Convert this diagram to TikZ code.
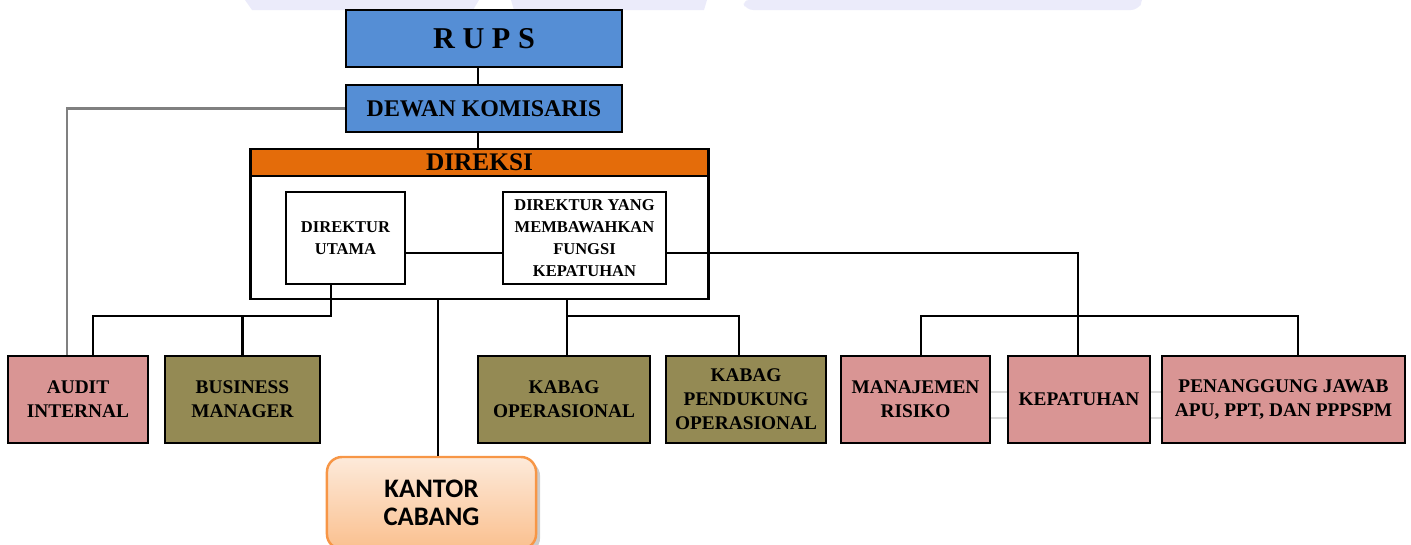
\documentclass[tikz,border=0pt]{standalone}
\usepackage{fontspec}
\setmainfont{Liberation Serif}
\newfontfamily\calibri{Carlito}
\usetikzlibrary{shadows}
\definecolor{rupsblue}{HTML}{558ED5}
\definecolor{direksiorange}{HTML}{E46C0A}
\definecolor{pinkbox}{HTML}{D99594}
\definecolor{olivebox}{HTML}{948A54}
\definecolor{kctop}{HTML}{FDEADA}
\definecolor{kcbottom}{HTML}{FAC08F}
\definecolor{kcborder}{HTML}{F79646}
\definecolor{wmark}{HTML}{EBEBFA}
\begin{document}
\begin{tikzpicture}[x=0.01cm,y=-0.01cm,
        box/.style={rectangle,draw=black,line width=0.8pt,inner sep=0pt,
          align=center,font=\bfseries\fontsize{5.5}{6.8}\selectfont},
        bluebox/.style={box,fill=rupsblue,minimum width=2.76cm},
        pinkunit/.style={box,fill=pinkbox,minimum height=0.87cm},
        oliveunit/.style={box,fill=olivebox,minimum height=0.87cm},
        dirbox/.style={box,fill=white,minimum height=0.92cm,
          font=\bfseries\fontsize{4.7}{6.3}\selectfont},
        conn/.style={draw=black,line width=0.6pt},
        auditline/.style={draw=black!50,line width=0.7pt},
        faint/.style={draw=black!15,line width=0.6pt}]
      \useasboundingbox (0,0) rectangle (1411,544);
      % watermark
      \fill[wmark] (245,0) -- (479,0) -- (473,10) -- (252,10) -- cycle;
      \fill[wmark] (511,0) -- (707,0) -- (704,10) -- (514,10) -- cycle;
      \fill[wmark] (742,0) -- (1142,0) -- (1140,6) [rounded corners=2pt] -- (1138,10) -- (746,10) -- cycle;
      % top
      \node (rups) at (484,38.5) [bluebox,minimum height=0.57cm,
        font=\bfseries\fontsize{8.6}{10}\selectfont] {R U P S};
      \node (dk) at (484,108.5) [bluebox,minimum height=0.47cm,
        font=\bfseries\fontsize{6.8}{8}\selectfont] {DEWAN KOMISARIS};
      \node (direksi) at (479.5,224) [box,minimum width=4.57cm,minimum height=1.5cm] {};
      \node (dhead) at (479.5,162.5) [box,fill=direksiorange,minimum width=4.57cm,
        minimum height=0.27cm,font=\bfseries\fontsize{7.2}{8}\selectfont] {DIREKSI};
      \node (dirut) at (345.5,238) [dirbox,minimum width=1.19cm] {DIREKTUR\\UTAMA};
      \node (diryang) at (584.5,238) [dirbox,minimum width=1.63cm]
        {DIREKTUR YANG\\MEMBAWAHKAN\\FUNGSI\\KEPATUHAN};
      % units
      \node (audit) at (78,399.5) [pinkunit,minimum width=1.4cm] {AUDIT\\INTERNAL};
      \node (bm) at (242.5,399.5) [oliveunit,minimum width=1.55cm] {BUSINESS\\MANAGER};
      \node (kabops) at (564,399.5) [oliveunit,minimum width=1.72cm] {KABAG\\OPERASIONAL};
      \node (kpo) at (746,399.5) [oliveunit,minimum width=1.6cm]
        {KABAG\\PENDUKUNG\\OPERASIONAL};
      \node (mr) at (915.5,399.5) [pinkunit,minimum width=1.49cm] {MANAJEMEN\\RISIKO};
      \node (kep) at (1079,399.5) [pinkunit,minimum width=1.42cm] {KEPATUHAN};
      \node (pj) at (1283.5,399.5) [pinkunit,minimum width=2.43cm]
        {PENANGGUNG JAWAB\\APU, PPT, DAN PPPSPM};
      \node (kc) at (431.5,503) [rectangle,rounded corners=0.15cm,draw=kcborder,line width=0.7pt,
        top color=kctop,bottom color=kcbottom,minimum width=2.09cm,minimum height=0.92cm,
        drop shadow={shadow xshift=0.04cm,shadow yshift=-0.04cm,fill=black!40,opacity=0.5},
        align=center,font=\calibri\bfseries\fontsize{7.6}{8}\selectfont] {KANTOR\\CABANG};
      \coordinate (dline) at (1078,253);
      \coordinate (busA) at (331,316);
      \coordinate (busB) at (567,316);
      \coordinate (busC) at (1078,316);
      % connectors
      \draw[conn] ([xshift=-0.06cm]rups.south) -- ([xshift=-0.06cm]dk.north);
      \draw[conn] ([xshift=-0.06cm]dk.south) -- ([xshift=-0.06cm]dk.south |- direksi.north);
      \draw[conn] (dirut.east |- dline) -- (diryang.west |- dline);
      \draw[conn] (diryang.east |- dline) -- (dline) -- (dline |- kep.north);
      \draw[auditline] (dk.west) -| ([xshift=-0.11cm]audit.north);
      \draw[conn] (dirut.south -| busA) -- (busA) -| ([xshift=0.15cm]audit.north);
      \draw[conn] (busA) -| (bm.north);
      \draw[conn] ([xshift=0.065cm]direksi.south -| kc.north) -- ([xshift=0.065cm]kc.north);
      \draw[conn] (direksi.south -| busB) -- (busB) -- (busB |- kabops.north);
      \draw[conn] (busB) -| ([xshift=-0.07cm]kpo.north);
      \draw[conn] ([xshift=0.055cm]mr.north) |- (busC) -| ([xshift=0.145cm]pj.north);
      \draw[faint] ([yshift=0.075cm]mr.east) -- ([yshift=0.075cm]kep.west);
      \draw[faint] ([yshift=-0.185cm]mr.east) -- ([yshift=-0.185cm]kep.west);
      \draw[faint] ([yshift=0.075cm]kep.east) -- ([yshift=0.075cm]pj.west);
      \draw[faint] ([yshift=-0.185cm]kep.east) -- ([yshift=-0.185cm]pj.west);
\end{tikzpicture}
\end{document}
